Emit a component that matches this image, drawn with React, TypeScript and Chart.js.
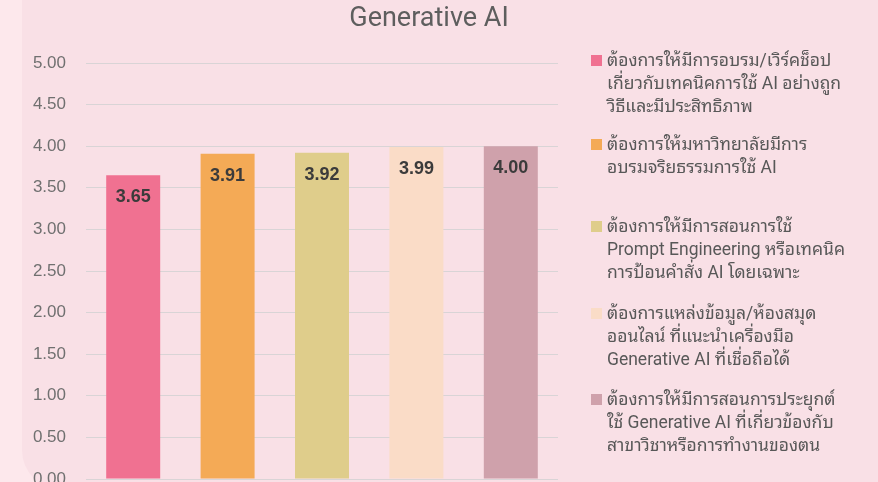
import React, { useEffect, useRef } from "react";
import { Chart, registerables } from "chart.js";

Chart.register(...registerables);

const TITLE = "Generative AI";

const categories: string[] = [
  "ต้องการให้มีการอบรม/เวิร์คช็อป\nเกี่ยวกับเทคนิคการใช้ AI อย่างถูก\nวิธีและมีประสิทธิภาพ",
  "ต้องการให้มหาวิทยาลัยมีการ\nอบรมจริยธรรมการใช้ AI",
  "ต้องการให้มีการสอนการใช้\nPrompt Engineering หรือเทคนิค\nการป้อนคำสั่ง AI โดยเฉพาะ",
  "ต้องการแหล่งข้อมูล/ห้องสมุด\nออนไลน์ ที่แนะนำเครื่องมือ\nGenerative AI ที่เชื่อถือได้",
  "ต้องการให้มีการสอนการประยุกต์\nใช้ Generative AI ที่เกี่ยวข้องกับ\nสาขาวิชาหรือการทำงานของตน",
];

const values: number[] = [3.65, 3.91, 3.92, 3.99, 4.0];

const barColors: string[] = ["#f07191", "#f4aa56", "#dfcd8b", "#fadcc7", "#cfa1ab"];

const yMin = 0;
const yMax = 5;
const yStep = 0.5;

const legendTops: number[] = [49, 133, 215, 302, 388];

const valueLabelPlugin = {
  id: "valueLabels",
  afterDatasetsDraw(chart: any) {
    const ctx = chart.ctx;
    const meta = chart.getDatasetMeta(0);
    ctx.save();
    ctx.font = "bold 18px 'Liberation Sans', Arial, sans-serif";
    ctx.fillStyle = "#3b3b3b";
    ctx.textAlign = "center";
    ctx.textBaseline = "middle";
    meta.data.forEach((el: any, i: number) => {
      const v = chart.data.datasets[0].data[i] as number;
      ctx.fillText(v.toFixed(2), el.x, el.y + 22);
    });
    ctx.restore();
  },
};

export default function App() {
  const canvasRef = useRef<HTMLCanvasElement | null>(null);

  useEffect(() => {
    if (!canvasRef.current) return;
    const chart = new Chart(canvasRef.current, {
      type: "bar",
      data: {
        labels: categories,
        datasets: [
          {
            data: values,
            backgroundColor: barColors,
            borderWidth: 0,
            categoryPercentage: 1,
            barPercentage: 0.572,
          },
        ],
      },
      options: {
        responsive: false,
        animation: false,
        devicePixelRatio: 1,
        layout: { padding: { top: 63, right: 42, bottom: 41, left: 0 } },
        plugins: {
          legend: { display: false },
          title: { display: false },
          tooltip: { enabled: false },
        },
        scales: {
          x: { display: false },
          y: {
            min: yMin,
            max: yMax,
            afterFit: (scale: any) => {
              scale.width = 86;
            },
            ticks: {
              stepSize: yStep,
              padding: 20,
              color: "#707070",
              font: { size: 17, family: "'Liberation Sans', Arial, sans-serif" },
              callback: (v: any) => Number(v).toFixed(2),
            },
            grid: { color: "#d9d4d6", lineWidth: 1, drawTicks: false },
            border: { display: false },
          },
        },
      },
      plugins: [valueLabelPlugin],
    });
    return () => chart.destroy();
  }, []);

  return (
    <div
      style={{
        position: "fixed",
        left: 0,
        top: 0,
        width: 878,
        height: 482,
        overflow: "hidden",
        background: "#fde8ec",
      }}
    >
      <div
        style={{
          position: "absolute",
          left: 22,
          top: -40,
          width: 900,
          height: 530,
          borderRadius: 40,
          background: "#f9e0e6",
        }}
      />
      <canvas
        ref={canvasRef}
        width={600}
        height={520}
        style={{ position: "absolute", left: 0, top: 0, width: 600, height: 520 }}
      />
      <div
        style={{
          position: "absolute",
          left: 0,
          width: 858,
          top: 2,
          textAlign: "center",
          fontFamily: "Roboto, 'Open Sans', sans-serif",
          fontSize: 27,
          color: "#5e5e5e",
          lineHeight: "30px",
        }}
      >
        {TITLE}
      </div>
      {categories.map((c, i) => (
        <div key={i} style={{ position: "absolute", left: 591, top: legendTops[i], width: 287 }}>
          <div
            style={{
              position: "absolute",
              left: 0,
              top: 6,
              width: 11,
              height: 11,
              background: barColors[i],
            }}
          />
          <div
            style={{
              position: "absolute",
              left: 16,
              top: 0,
              whiteSpace: "pre",
              fontFamily:
                "Roboto, 'Noto Sans Thai Looped', Garuda, Loma, Tahoma, 'Leelawadee UI', 'Noto Sans Thai', 'Noto Sans', sans-serif",
              fontSize: 17.5,
              lineHeight: "23px",
              color: "#585858",
            }}
          >
            {c}
          </div>
        </div>
      ))}
    </div>
  );
}
